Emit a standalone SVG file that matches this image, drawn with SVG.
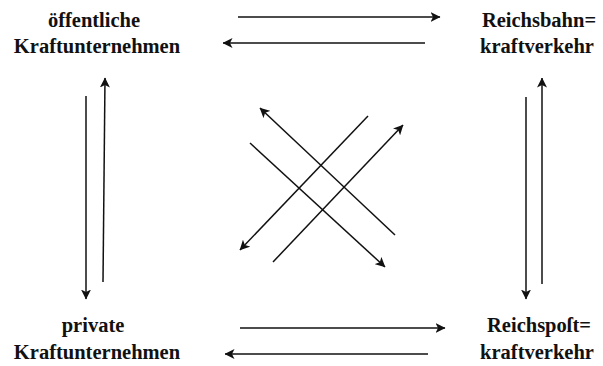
<svg xmlns="http://www.w3.org/2000/svg" width="603" height="366" viewBox="0 0 603 366">
<style>
text{font-family:"Liberation Serif","DejaVu Serif",serif;font-weight:bold;font-size:20.5px;fill:#111;text-anchor:middle}
line{stroke:#111;stroke-width:1.5;fill:none}
</style>
<defs>
<marker id="ah" viewBox="0 0 10 10" refX="9.5" refY="5" markerWidth="10" markerHeight="10" markerUnits="userSpaceOnUse" orient="auto">
<path d="M0,0 L10,5 L0,10 L2.5,5 z" fill="#111"/>
</marker>
</defs>
<rect width="603" height="366" fill="#fff"/>
<g id="oeffentliche">
<text x="94" y="27">öffentliche</text>
<text x="97" y="53">Kraftunternehmen</text>
</g>
<g id="reichsbahn">
<text x="539" y="27">Reichsbahn=</text>
<text x="537" y="53">kraftverkehr</text>
</g>
<g id="private">
<text x="93" y="332">private</text>
<text x="97" y="359">Kraftunternehmen</text>
</g>
<g id="reichspost">
<text x="539" y="332">Reichspoſt=</text>
<text x="537" y="359">kraftverkehr</text>
</g>
<g id="connectors">
<line x1="238" y1="17" x2="440" y2="17" marker-end="url(#ah)"/>
<line x1="425" y1="43" x2="223" y2="43" marker-end="url(#ah)"/>
<line x1="240" y1="328" x2="445" y2="328" marker-end="url(#ah)"/>
<line x1="428" y1="354" x2="225" y2="354" marker-end="url(#ah)"/>
<line x1="86" y1="96" x2="86" y2="299" marker-end="url(#ah)"/>
<line x1="103" y1="282" x2="105" y2="78" marker-end="url(#ah)"/>
<line x1="526" y1="97" x2="526" y2="299" marker-end="url(#ah)"/>
<line x1="542" y1="284" x2="542" y2="78" marker-end="url(#ah)"/>
<line x1="368" y1="116" x2="240" y2="250" marker-end="url(#ah)"/>
<line x1="273" y1="262" x2="403" y2="125" marker-end="url(#ah)"/>
<line x1="250" y1="143" x2="385" y2="267" marker-end="url(#ah)"/>
<line x1="395" y1="235" x2="260" y2="108" marker-end="url(#ah)"/>
</g>
</svg>
